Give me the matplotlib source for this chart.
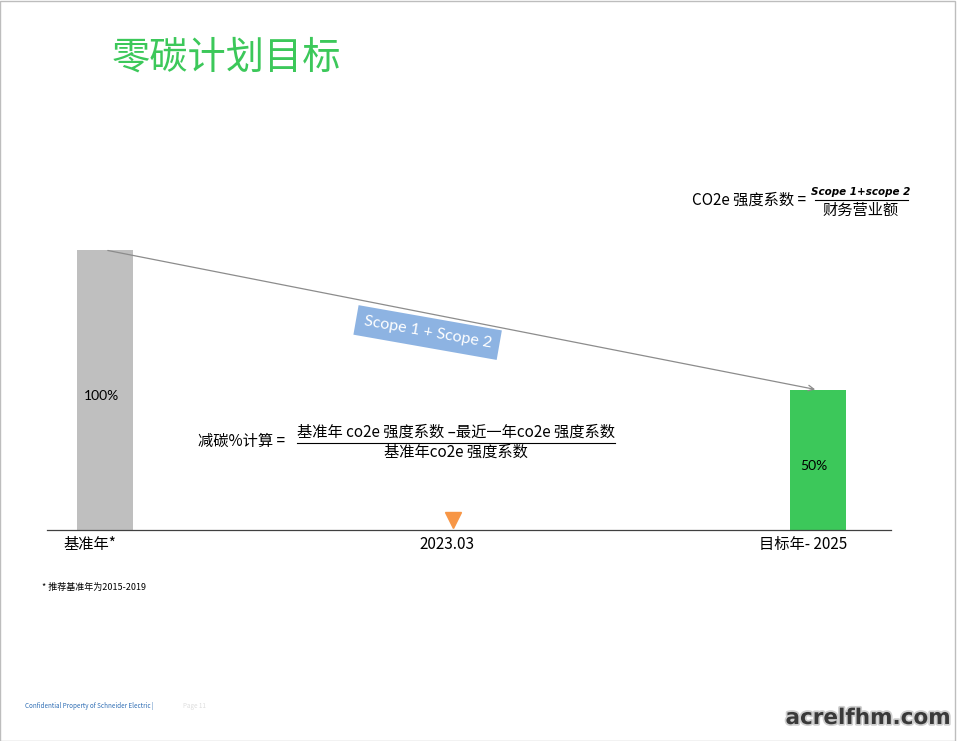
import matplotlib.pyplot as plt
import matplotlib.patheffects as pe
from matplotlib.transforms import ScaledTranslation
from matplotlib.patches import Rectangle

plt.rcParams['font.family'] = ['Noto Sans CJK SC', 'DejaVu Sans']

# data
categories = ['基准年*', '2023.03', '目标年- 2025']
bar_values = [100, 50]
bar_labels = ['100%', '50%']
bar_colors = ['#BFBFBF', '#3CC85A']
current_idx = 1

fig = plt.figure(figsize=(9.57, 7.41), dpi=100)
fig.patches.append(Rectangle((0, 0), 0.998, 0.999, transform=fig.transFigure,
                             fill=False, edgecolor='#BDBDBD', linewidth=1))

ax = fig.add_axes([0.0491, 0.2848, 0.8819, 0.3779])
bar_x = [0, 2]
ax.bar(bar_x, bar_values, width=0.157, color=bar_colors)
for x, v, lab in zip(bar_x, bar_values, bar_labels):
    ax.text(x - 0.01, v / 2 - 2, lab, ha='center', va='center', fontsize=10,
            family=['Lato', 'Noto Sans CJK SC'])

# trend arrow between bar tops
ax.annotate('', xy=(bar_x[1], bar_values[1]), xytext=(bar_x[0], bar_values[0]),
            arrowprops=dict(arrowstyle='->', color='#8C8C8C', lw=0.9))
ax.text(0.905, 70.5, 'Scope 1 + Scope 2', rotation=-10, ha='center', va='center',
        color='white', fontsize=11.5, family=['Lato', 'DejaVu Sans'],
        bbox=dict(boxstyle='square,pad=0.5', fc='#8DB3E2', ec='none'))

# current position marker
ax.plot([current_idx - 0.025], [3.5], marker='v', color='#F79646', markersize=11, clip_on=False)

ax.set_xlim(-0.163, 2.205)
ax.set_ylim(0, 100)
for s in ['top', 'right', 'left']:
    ax.spines[s].set_visible(False)
ax.spines['bottom'].set_color('#404040')
ax.spines['bottom'].set_linewidth(0.9)
ax.set_yticks([])
ax.set_xticks(range(len(categories)))
ax.set_xticklabels(categories, fontsize=11)
ax.tick_params(axis='x', length=0, pad=4)
for t in ax.get_xticklabels():
    t.set_transform(t.get_transform() + ScaledTranslation(-0.15, 0, fig.dpi_scale_trans))

# title
fig.text(112 / 957, 1 - 58 / 741, '零碳计划目标', color='#3CC85A', fontsize=27.5,
         ha='left', va='center')

# intensity formula (top right)
fig.text(692 / 957, 1 - 200 / 741, 'CO2e 强度系数 =', fontsize=11, ha='left', va='center')
fig.text(861 / 957, 1 - 192 / 741, 'Scope 1+scope 2', fontsize=7.5, style='italic',
         weight='bold', ha='center', va='center', family=['DejaVu Sans'])
fig.add_artist(plt.Line2D([815 / 957, 908 / 957], [1 - 200 / 741] * 2, color='black', lw=0.8))
fig.text(861 / 957, 1 - 210 / 741, '财务营业额', fontsize=11, ha='center', va='center')

# reduction formula
fig.text(198 / 957, 1 - 441 / 741, '减碳%计算 =', fontsize=11, ha='left', va='center')
fig.text(456 / 957, 1 - 432 / 741, '基准年 co2e 强度系数 –最近一年co2e 强度系数', fontsize=11,
         ha='center', va='center')
fig.add_artist(plt.Line2D([297 / 957, 615 / 957], [1 - 443 / 741] * 2, color='black', lw=0.8))
fig.text(456 / 957, 1 - 452 / 741, '基准年co2e 强度系数', fontsize=11, ha='center', va='center')

# footnotes
fig.text(42 / 957, 1 - 587 / 741, '* 推荐基准年为2015-2019', fontsize=6.5, ha='left', va='center')
fig.text(25 / 957, 1 - 706 / 741, 'Confidential Property of Schneider Electric |', fontsize=4.5,
         color='#2E6DB4', ha='left', va='center')
fig.text(183 / 957, 1 - 706 / 741, 'Page 11', fontsize=4.5, color='#DDDDDD', ha='left', va='center')

# watermark
fig.text(868 / 957, 1 - 718 / 741, 'acrelfhm.com', fontsize=15.5, color='#3A3A3A',
         ha='center', va='center', family=['DejaVu Sans'], weight='bold',
         path_effects=[pe.withStroke(linewidth=2.5, foreground='#CFCFCF')])

fig.savefig('out.png', dpi=100, facecolor='white')
